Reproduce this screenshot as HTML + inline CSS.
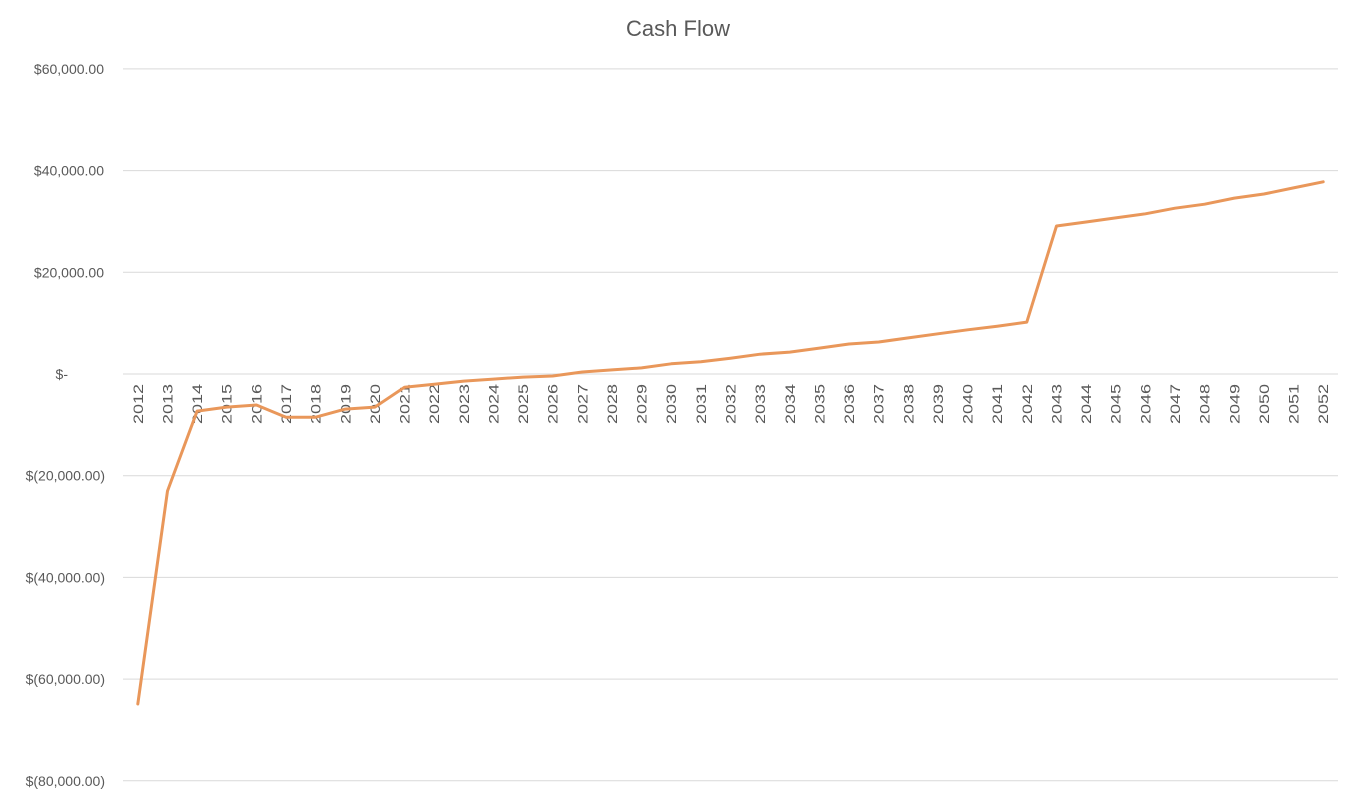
<!DOCTYPE html>
<html><head><meta charset="utf-8"><style>
body{margin:0;background:#fff;}
svg{display:block;font-family:"Liberation Sans",sans-serif;}
</style></head><body>
<svg id="chart" width="1358" height="800">
<text x="678" y="36" text-anchor="middle" font-size="22" fill="#595959">Cash Flow</text>
<g id="grid"></g><g id="ylabels"></g><g id="xlabels"></g><g id="series"></g>
</svg>
<script>
const years = [];
for (let y = 2012; y <= 2052; y++) years.push(String(y));
const cashFlow = [-64900,-23000,-7300,-6500,-6100,-8500,-8500,-6900,-6500,-2600,-2000,-1400,-1000,-600,-400,400,800,1200,2000,2400,3100,3900,4300,5100,5900,6300,7100,7900,8700,9400,10200,29100,29900,30700,31500,32600,33400,34600,35400,36600,37800];
const yTicks = [60000,40000,20000,0,-20000,-40000,-60000,-80000];
const yTickLabels = ["$60,000.00","$40,000.00","$20,000.00","$-","$(20,000.00)","$(40,000.00)","$(60,000.00)","$(80,000.00)"];

const NS = "http://www.w3.org/2000/svg";
const left = 123, right = 1338;
const band = (right - left) / years.length;
const xPos = i => left + band * (i + 0.5);
const yPos = v => 374 - v * (101.7 / 20000);
function mk(tag, attrs, parent) {
  const e = document.createElementNS(NS, tag);
  for (const k in attrs) e.setAttribute(k, attrs[k]);
  document.getElementById(parent).appendChild(e);
  return e;
}
yTicks.forEach((t, i) => {
  const y = yPos(t);
  const l = mk("line", {x1: left, x2: right, y1: y, y2: y, stroke: "#d9d9d9", "stroke-width": 1}, "grid");
  
  
  const lab = yTickLabels[i];
  let xe = lab.includes("(") ? 105 : 104;
  if (lab === "$-") xe = 68;
  const tx = mk("text", {x: xe, y: y + 5, "text-anchor": "end", "font-size": 14, fill: "#595959"}, "ylabels");
  tx.textContent = lab;
  
  
});
years.forEach((yr, i) => {
  const x = xPos(i), y = 384;
  const tx = mk("text", {x: x + 5, y: y, "text-anchor": "end", "font-size": 14, textLength: 40, lengthAdjust: "spacingAndGlyphs", fill: "#595959", transform: `rotate(-90 ${x + 5} ${y})`}, "xlabels");
  tx.textContent = yr;
  
  
});
const pts = cashFlow.map((v, i) => xPos(i).toFixed(1) + "," + yPos(v).toFixed(1)).join(" ");
const pl = mk("polyline", {points: pts, fill: "none", stroke: "#E9975A", "stroke-width": 3, "stroke-linejoin": "round", "stroke-linecap": "round"}, "series");


</script>
</body></html>
